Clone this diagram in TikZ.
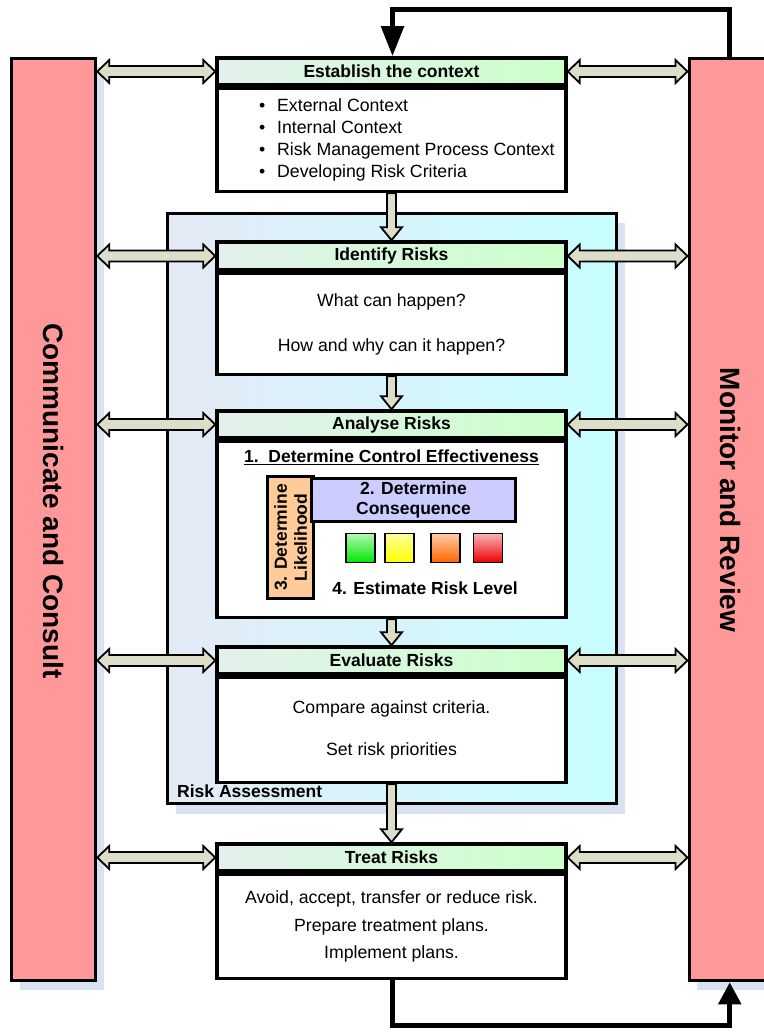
\documentclass[tikz,border=0pt]{standalone}
\usepackage{fontspec}
\setmainfont{Liberation Sans}
\usetikzlibrary{calc,shadows,arrows.meta}

\definecolor{redbar}{RGB}{255,153,153}
\definecolor{shadowblue}{RGB}{217,226,241}
\definecolor{hdrL}{RGB}{227,241,236}
\definecolor{hdrR}{RGB}{204,255,204}
\definecolor{raL}{RGB}{228,234,246}
\definecolor{raR}{RGB}{200,255,255}
\definecolor{arrowfill}{RGB}{221,222,202}
\definecolor{likfill}{RGB}{255,204,153}
\definecolor{consfill}{RGB}{204,204,255}
\definecolor{sqgreen}{RGB}{0,230,0}
\definecolor{sqyellow}{RGB}{255,255,0}
\definecolor{sqorange}{RGB}{255,102,0}
\definecolor{sqred}{RGB}{235,0,0}

\newcommand\hdrfont{\fontsize{17.5}{20}\selectfont\bfseries}
\newcommand\bodyfont{\fontsize{17.7}{22}\selectfont}
\newcommand\sidefont{\fontsize{28}{30}\selectfont\bfseries}

\tikzset{
  bar/.style={draw, line width=3.5pt, fill=redbar, inner sep=0pt,
    drop shadow={shadow xshift=8pt, shadow yshift=-9pt, fill=shadowblue, opacity=1}},
  sidetext/.style={rotate=-90, font=\sidefont, inner sep=0pt},
  rabox/.style={draw, line width=3.5pt, left color=raL, right color=raR, inner sep=0pt,
    drop shadow={shadow xshift=8pt, shadow yshift=-10pt, fill=shadowblue, opacity=1}},
  hdr/.style={draw, line width=3.5pt, left color=hdrL, right color=hdrR,
    minimum width=349pt, inner sep=0pt, font=\hdrfont},
  body/.style={draw, line width=3.5pt, fill=white, minimum width=349pt,
    anchor=north, inner sep=0pt, align=center, font=\bodyfont},
  sq/.style={draw, line width=1.2pt, minimum size=29pt, inner sep=0pt, shading angle=45},
  darrow/.style={draw=black, line width=1.8pt, fill=arrowfill, line join=miter,
    to path={(\tikztostart)
      -- ($(\tikztostart)!12pt!(\tikztotarget)!11.5pt!90:(\tikztotarget)$)
      -- ($(\tikztostart)!12pt!(\tikztotarget)!5.5pt!90:(\tikztotarget)$)
      -- ($(\tikztotarget)!12pt!(\tikztostart)!5.5pt!-90:(\tikztostart)$)
      -- ($(\tikztotarget)!12pt!(\tikztostart)!11.5pt!-90:(\tikztostart)$)
      -- (\tikztotarget)
      -- ($(\tikztotarget)!12pt!(\tikztostart)!11.5pt!90:(\tikztostart)$)
      -- ($(\tikztotarget)!12pt!(\tikztostart)!5.5pt!90:(\tikztostart)$)
      -- ($(\tikztostart)!12pt!(\tikztotarget)!5.5pt!-90:(\tikztotarget)$)
      -- ($(\tikztostart)!12pt!(\tikztotarget)!11.5pt!-90:(\tikztotarget)$)
      -- cycle}},
  varrow/.style={draw=black, line width=1.8pt, fill=arrowfill, line join=miter,
    to path={($(\tikztostart)!4.5pt!90:(\tikztotarget)$)
      -- ($(\tikztotarget)!13pt!(\tikztostart)!4.5pt!-90:(\tikztostart)$)
      -- ($(\tikztotarget)!13pt!(\tikztostart)!10.5pt!-90:(\tikztostart)$)
      -- (\tikztotarget)
      -- ($(\tikztotarget)!13pt!(\tikztostart)!10.5pt!90:(\tikztostart)$)
      -- ($(\tikztotarget)!13pt!(\tikztostart)!4.5pt!90:(\tikztostart)$)
      -- ($(\tikztostart)!4.5pt!-90:(\tikztotarget)$)
      -- cycle}},
  fb/.style={draw=black, line width=5pt, line join=miter},
}

\begin{document}
\begin{tikzpicture}[x=1pt,y=-1pt]
\useasboundingbox (0,0) rectangle (763,1032);

% side bars
\node[bar, minimum width=84pt, minimum height=922pt] (cc) at (53.5,519.5) {};
\node[bar, minimum width=81pt, minimum height=922pt] (mr) at (729.75,519.5) {};
\node[sidetext] (cct) at (53.5,501) {Communicate and Consult};
\node[sidetext] (mrt) at (730,500) {Monitor and Review};

% risk assessment frame
\node[rabox, minimum width=449pt, minimum height=590pt] (ra) at (392,508.5) {};
\node[font=\hdrfont, anchor=west, inner sep=0pt] (ral) at (177,791) {Risk Assessment};

% process boxes
\node[hdr, minimum height=27pt] (h1) at (391.5,71.5) {Establish the context};
\node[body, minimum height=103pt] (b1) at (h1.south) {};
\node[anchor=west, align=left, font=\bodyfont, inner sep=0pt] (l1) at (259,140)
  {\makebox[18pt][l]{\textbullet}External Context\\
   \makebox[18pt][l]{\textbullet}Internal Context\\
   \makebox[18pt][l]{\textbullet}Risk Management Process Context\\
   \makebox[18pt][l]{\textbullet}Developing Risk Criteria};

\node[hdr, minimum height=28pt] (h2) at (391.5,256) {Identify Risks};
\node[body, minimum height=101pt] (b2) at (h2.south) {What can happen?\\[23pt]How and why can it happen?};

\node[hdr, minimum height=27pt] (h3) at (391.5,424.5) {Analyse Risks};
\node[body, minimum height=176pt] (b3) at (h3.south) {};
\node[font=\hdrfont, inner sep=0pt] (dce) at (391.5,457) {\underline{1.\ \ Determine Control Effectiveness}};
\node[draw, line width=3pt, fill=likfill, minimum width=46pt, minimum height=122pt, inner sep=0pt] (lik) at (290.5,537.5) {};
\node[rotate=90, align=center, font=\hdrfont, inner sep=0pt] (likt) at (lik.center) {3. Determine\\Likelihood};
\node[draw, line width=3pt, fill=consfill, minimum width=204pt, minimum height=43pt, inner sep=0pt,
      align=center, font=\hdrfont] (cons) at (413.5,500) {2. Determine\\Consequence};
\node[sq, top color=sqgreen!30!white, bottom color=sqgreen] (sg) at (360.5,548) {};
\node[sq, top color=sqyellow!40!white, bottom color=sqyellow] (sy) at (399.5,548) {};
\node[sq, top color=sqorange!35!white, bottom color=sqorange] (so) at (445.5,548) {};
\node[sq, top color=sqred!30!white, bottom color=sqred] (sr) at (488,548) {};
\node[font=\hdrfont, inner sep=0pt] (erl) at (425,588) {4. Estimate Risk Level};

\node[hdr, minimum height=27pt] (h4) at (391.5,660.5) {Evaluate Risks};
\node[body, minimum height=105pt] (b4) at (h4.south) {Compare against criteria.\\[20pt]Set risk priorities};

\node[hdr, minimum height=27pt] (h5) at (391.5,857.5) {Treat Risks};
\node[body, minimum height=104pt] (b5) at (h5.south) {Avoid, accept, transfer or reduce risk.\\[5.5pt]Prepare treatment plans.\\[5.5pt]Implement plans.};

% vertical flow arrows
\draw[varrow] (b1.south) to (h2.north);
\draw[varrow] (b2.south) to (h3.north);
\draw[varrow] (b3.south) to (h4.north);
\draw[varrow] (b4.south) to (h5.north);

% horizontal double arrows
\foreach \i in {1,...,5}{
  \coordinate (cl\i) at (cc.east |- h\i.west);
  \coordinate (cr\i) at (mr.west |- h\i.east);
  \draw[darrow] (cl\i) to (h\i.west);
  \draw[darrow] (h\i.east) to (cr\i);
}

% feedback loop
\coordinate (fbt) at (392.5,10);
\coordinate (fbb) at (392.5,1025);
\draw[fb, -{Triangle[length=30pt,width=22pt]}] (mr.north) |- (fbt) -- (fbt |- h1.north);
\draw[fb, -{Triangle[length=22pt,width=22pt]}] (fbt |- b5.south) -- (fbb) -| (mr.south);
\end{tikzpicture}
\end{document}
